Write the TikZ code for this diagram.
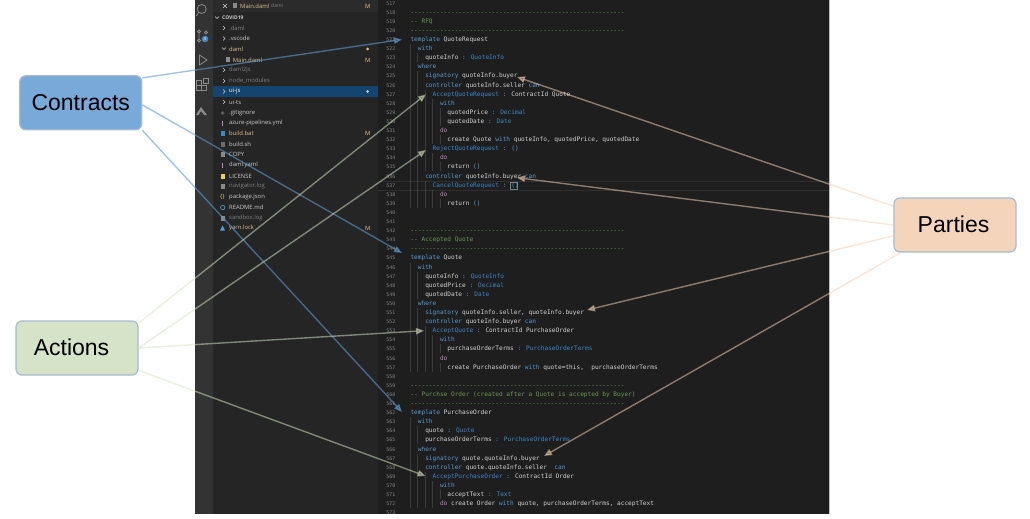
\documentclass[tikz,border=0pt]{standalone}
\usepackage{fontspec}
\setmainfont{Liberation Sans}
\newfontfamily\codefont{DejaVu Sans Mono}
\newfontfamily\uifont{Open Sans}
\usetikzlibrary{arrows.meta}
\definecolor{cK}{HTML}{569CD6}
\definecolor{cT}{HTML}{3F87C9}
\definecolor{cD}{HTML}{C586C0}
\definecolor{cG}{HTML}{6A9955}
\definecolor{cTx}{HTML}{D4D4D4}
\definecolor{cNo}{HTML}{858585}
\definecolor{cMod}{HTML}{E2C08D}
\definecolor{cDim}{HTML}{808080}
\definecolor{cUi}{HTML}{CCCCCC}
\definecolor{cBar}{HTML}{333333}
\definecolor{cSide}{HTML}{252526}
\definecolor{cEd}{HTML}{1E1E1E}
\definecolor{cSel}{HTML}{14456E}
\definecolor{cIcon}{HTML}{8A8A8A}
\definecolor{cBlue}{HTML}{5B9BD5}
\definecolor{cGreen}{HTML}{D5E3C0}
\definecolor{cOrange}{HTML}{F5D0B5}
\definecolor{cBorder}{HTML}{A3BCD3}
\definecolor{cBrk}{HTML}{6A8A8A}
\definecolor{fContracts}{HTML}{78A9D9}
\definecolor{fActions}{HTML}{D5E4C8}
\definecolor{fParties}{HTML}{F4D5BC}
\newcommand\K[1]{\textcolor{cK}{#1}}
\newcommand\T[1]{\textcolor{cT}{#1}}
\newcommand\D[1]{\textcolor{cD}{#1}}
\newcommand\dashrule{\textcolor{cG}{----------------------------------------------------------}}
\newcommand\cln[1]{\node[linenum] (N#1) at (395.5,{39.5+(#1-521)*9.1+2}) {#1};}
\newcommand\cl[3]{\cln{#1}\node[codetext] (L#1) at ({410.3+3.69*#2},{39.5+(#1-521)*9.1+2}) {#3};}
\newcommand\gd[3]{\draw[guide] ({410.3+3.69*#1},{35+(#2-521)*9.1}) -- ({410.3+3.69*#1},{44+(#3-521)*9.1});}
\newcommand\rowt[5]{\node[uitext,text=#4] (#1) at (#3,#2) {#5};}
\newcommand\chev[2]{\draw[cUi,line width=.6] ({#1-1},{#2-2}) -- ({#1+1},#2) -- ({#1-1},{#2+2});}
\newcommand\chevd[2]{\draw[cUi,line width=.6] ({#1-2},{#2-1}) -- (#1,{#2+1}) -- ({#1+2},{#2-1});}
\newcommand\ficon[2]{\fill[#2] (220.5,{#1-2.5}) rectangle (225,{#1+2.5});}
\tikzset{
  codetext/.style={anchor=base west,inner sep=0,text=cTx,font=\codefont\fontsize{6.13}{7}\selectfont},
  linenum/.style={anchor=base east,inner sep=0,text=cNo,font=\codefont\fontsize{4.9}{6}\selectfont},
  uitext/.style={anchor=west,inner sep=0,font=\uifont\fontsize{5.9}{7}\selectfont},
  labelbox/.style={draw=cBorder,rounded corners=6pt,line width=1.2pt,minimum width=122pt,minimum height=54pt,inner sep=0,
    text=black,font=\fontsize{23}{27}\selectfont},
  conn/.style 2 args={line width=1.4pt,draw=#1,opacity=#2,-{Triangle[length=8pt,width=6.5pt,fill=#1]}},
  guide/.style={draw=white,opacity=.13,line width=.4pt},
  acticon/.style={draw=cIcon,line width=.8pt},
}
\begin{document}
\begin{tikzpicture}[x=1pt,y=-1pt]
\useasboundingbox (0,0) rectangle (1030,519);
\fill[white] (0,0) rectangle (1030,519);
% screenshot panels
\fill[cBar] (195,0) rectangle (213,514);
\fill[cSide] (213,0) rectangle (378,514);
\fill[cEd] (378,0) rectangle (829,514);
\draw[black!25,line width=.5] (829,0) -- (829,514);
\fill[cBar!85!black] (213,0) rectangle (378,12.5);
\fill[cSel] (213,86) rectangle (378,97);
% activity bar icons
\draw[acticon] (201.7,9) circle (4.5) (198.5,12.5) -- (196.5,16);
\draw[acticon] (199,31.5) circle (1.5) (199,40.5) circle (1.5) (206,32.5) circle (1.5) (199,33) -- (199,39);
\fill[cT] (205,39) circle (3.3);
\node[inner sep=0,text=white,font=\uifont\fontsize{4.5}{5}\selectfont] (badge) at (205,39) {4};
\draw[acticon] (199.5,55) -- (207,60) -- (199.5,65) -- cycle;
\draw[acticon] (196,85) rectangle (201,90) (201,85) rectangle (206,90) (196,80) rectangle (201,85) (203,78) rectangle (208,83);
\fill[cIcon] (196,115) -- (201,107) -- (207,115) -- (204,115) -- (201,111) -- (198.5,115) -- cycle;
% tab row
\draw[cUi,line width=.6] (223,4) -- (227,8) (227,4) -- (223,8);
\fill[cIcon] (233,3.5) rectangle (237,8.5);
\rowt{tabmain}{6}{240}{cMod}{Main.daml}
\node[uitext,text=cDim,font=\uifont\fontsize{5}{6}\selectfont] (tabdir) at (271,6) {daml};
\rowt{tabm}{6}{365}{cMod}{M}
% tree
\node[uitext,text=cUi,font=\uifont\bfseries\fontsize{5}{6}\selectfont] (root) at (222,18) {COVID19};
\chevd{217}{17.5}
\chev{224}{28}\rowt{t1}{28}{229}{cDim}{.daml}
\chev{224}{38.5}\rowt{t2}{38.5}{229}{cUi}{.vscode}
\chevd{224}{48.5}\rowt{t3}{49}{229}{cMod}{daml}
\fill[cMod] (367.5,49) circle (1.5);
\fill[cIcon] (226,57.5) rectangle (230,62.5);
\rowt{t4}{60}{232.7}{cMod}{Main.daml}\rowt{t4m}{60}{365}{cMod}{M}
\chev{224}{70}\rowt{t5}{70}{229}{cDim}{daml2js}
\chev{224}{81}\rowt{t6}{81}{229}{cDim}{node\_modules}
\chev{224}{91.5}\rowt{t7}{91.5}{229}{white}{ui-js}
\fill[cUi] (367.5,91.5) circle (1.5);
\chev{224}{102}\rowt{t8}{102}{229}{cUi}{ui-ts}
\fill[cDim!60!cSide] (222.5,111) -- (224.5,113) -- (222.5,115) -- (220.5,113) -- cycle;
\rowt{t9}{113}{229}{cUi}{.gitignore}
\fill[cD] (222.2,120.5) rectangle (223.2,125.5);
\rowt{t10}{123}{229}{cUi}{azure-pipelines.yml}
\ficon{133}{cT}\rowt{t11}{133}{229}{cMod}{build.bat}\rowt{t11m}{133}{365}{cMod}{M}
\ficon{144}{cIcon!70!cSide}\rowt{t12}{144}{229}{cUi}{build.sh}
\ficon{154.5}{cIcon}\rowt{t13}{154.5}{229}{cUi}{COPY}
\fill[cD] (222.2,162.5) rectangle (223.2,167.5);
\rowt{t14}{165}{229}{cUi}{daml.yaml}
\ficon{176}{cMod!80!yellow}\rowt{t15}{176}{229}{cUi}{LICENSE}
\ficon{186}{cIcon}\rowt{t16}{186}{229}{cDim}{navigator.log}
\node[uitext,text=cMod!80!yellow] (t17i) at (220,197) {\{\}};
\rowt{t17}{197}{229}{cUi}{package.json}
\draw[cK,line width=.6] (222.7,207.5) circle (2.2);
\rowt{t18}{207.5}{229}{cUi}{README.md}
\ficon{218}{cIcon}\rowt{t19}{218}{229}{cDim}{sandbox.log}
\fill[cK] (220,230.5) -- (222.5,225.5) -- (225,230.5) -- cycle;
\rowt{t20}{228}{229}{cMod}{yarn.lock}\rowt{t20m}{228}{365}{cMod}{M}
% indent guides
\gd{0}{522}{539}\gd{2}{523}{523}\gd{2}{525}{539}\gd{4}{527}{535}\gd{4}{537}{539}
\gd{6}{528}{532}\gd{6}{534}{535}\gd{6}{538}{539}\gd{8}{529}{530}\gd{8}{532}{532}\gd{8}{535}{535}\gd{8}{539}{539}
\gd{0}{546}{557}\gd{2}{547}{549}\gd{2}{551}{557}\gd{4}{553}{557}\gd{6}{554}{557}\gd{8}{555}{555}\gd{8}{557}{557}
\gd{0}{563}{572}\gd{2}{564}{565}\gd{2}{567}{572}\gd{4}{569}{572}\gd{6}{570}{572}\gd{8}{571}{571}
% current line
\draw[white,opacity=.08,line width=.5] (378,181) -- (829,181) (378,190.5) -- (829,190.5);
\draw[cBrk,line width=.5] (510.3,182) rectangle (517.6,189.5);
% code
\begin{scope}
\clip (378,0) rectangle (829,513.5);
\cln{517}\cl{518}{0}{\dashrule}
\cl{519}{0}{\textcolor{cG}{-- RFQ}}
\cl{520}{0}{\dashrule}
\cl{521}{0}{\K{template} QuoteRequest}
\cl{522}{2}{\K{with}}
\cl{523}{4}{quoteInfo \K{:} \T{QuoteInfo}}
\cl{524}{2}{\K{where}}
\cl{525}{4}{\K{signatory} quoteInfo.buyer}
\cl{526}{4}{\K{controller} quoteInfo.seller \K{can}}
\cl{527}{6}{\T{AcceptQuoteRequest} \K{:} ContractId Quote}
\cl{528}{8}{\K{with}}
\cl{529}{10}{quotedPrice \K{:} \T{Decimal}}
\cl{530}{10}{quotedDate \K{:} \T{Date}}
\cl{531}{8}{\D{do}}
\cl{532}{10}{create Quote \K{with} quoteInfo, quotedPrice, quotedDate}
\cl{533}{6}{\T{RejectQuoteRequest} \K{:} \K{()}}
\cl{534}{8}{\D{do}}
\cl{535}{10}{return \K{()}}
\cl{536}{4}{\K{controller} quoteInfo.buyer \K{can}}
\cl{537}{6}{\T{CancelQuoteRequest} \K{:} \K{()}}
\cl{538}{8}{\D{do}}
\cl{539}{10}{return \K{()}}
\cln{540}\cln{541}
\cl{542}{0}{\dashrule}
\cl{543}{0}{\textcolor{cG}{-- Accepted Quote}}
\cl{544}{0}{\dashrule}
\cl{545}{0}{\K{template} Quote}
\cl{546}{2}{\K{with}}
\cl{547}{4}{quoteInfo \K{:} \T{QuoteInfo}}
\cl{548}{4}{quotedPrice \K{:} \T{Decimal}}
\cl{549}{4}{quotedDate \K{:} \T{Date}}
\cl{550}{2}{\K{where}}
\cl{551}{4}{\K{signatory} quoteInfo.seller, quoteInfo.buyer}
\cl{552}{4}{\K{controller} quoteInfo.buyer \K{can}}
\cl{553}{6}{\T{AcceptQuote} \K{:} ContractId PurchaseOrder}
\cl{554}{8}{\K{with}}
\cl{555}{10}{purchaseOrderTerms \K{:} \T{PurchaseOrderTerms}}
\cl{556}{8}{\D{do}}
\cl{557}{10}{create PurchaseOrder \K{with} quote=this,\ \ purchaseOrderTerms}
\cln{558}
\cl{559}{0}{\dashrule}
\cl{560}{0}{\textcolor{cG}{-- Purchse Order (created after a Quote is accepted by Buyer)}}
\cl{561}{0}{\dashrule}
\cl{562}{0}{\K{template} PurchaseOrder}
\cl{563}{2}{\K{with}}
\cl{564}{4}{quote \K{:} \T{Quote}}
\cl{565}{4}{purchaseOrderTerms \K{:} \T{PurchaseOrderTerms}}
\cl{566}{2}{\K{where}}
\cl{567}{4}{\K{signatory} quote.quoteInfo.buyer}
\cl{568}{4}{\K{controller} quote.quoteInfo.seller\ \ \K{can}}
\cl{569}{6}{\T{AcceptPurchaseOrder} \K{:} ContractId Order}
\cl{570}{8}{\K{with}}
\cl{571}{10}{acceptText \K{:} \T{Text}}
\cl{572}{8}{\D{do} create Order \K{with} quote, purchaseOrderTerms, acceptText}
\cln{573}
\end{scope}
% label boxes
\node[labelbox,fill=fContracts] (contracts) at (80.75,102.75) {\raisebox{1pt}{Contracts}};
\node[labelbox,fill=fActions] (actions) at (77,348) {\raisebox{1.5pt}{Actions}\kern11pt};
\node[labelbox,fill=fParties] (parties) at (955,225) {\raisebox{1.5pt}{Parties}\kern3pt};
% connector free ends
\coordinate (tQR) at (402,39.5);
\coordinate (tQ) at (402,253);
\coordinate (tPO) at (402,412);
\coordinate (aAQR) at (426,94.3);
\coordinate (aRQR) at (426,150);
\coordinate (aAQ) at (424,330.7);
\coordinate (aAPO) at (425.5,476);
\coordinate (pQRb) at (517,77);
\coordinate (pCQR) at (517,177.7);
\coordinate (pQ) at (587,310);
\coordinate (pPO) at (544,456);
% connectors
\draw[conn={cBlue}{.58}] (contracts.22) -- (tQR);
\draw[conn={cBlue}{.58}] (contracts.-2) -- (tQ);
\draw[conn={cBlue}{.58}] (contracts.south east) -- (tPO);
\draw[conn={cGreen}{.52}] (actions.22) -- (aAQR);
\draw[conn={cGreen}{.52}] (actions.east) -- (aRQR);
\draw[conn={cGreen}{.52}] (actions.east) -- (aAQ);
\draw[conn={cGreen}{.52}] (actions.-20) -- (aAPO);
\draw[conn={cOrange}{.52}] (parties.163) -- (pQRb);
\draw[conn={cOrange}{.52}] (parties.west) -- (pCQR);
\draw[conn={cOrange}{.52}] (parties.190) -- (pQ);
\draw[conn={cOrange}{.52}] (parties.207) -- (pPO);
\end{tikzpicture}
\end{document}
